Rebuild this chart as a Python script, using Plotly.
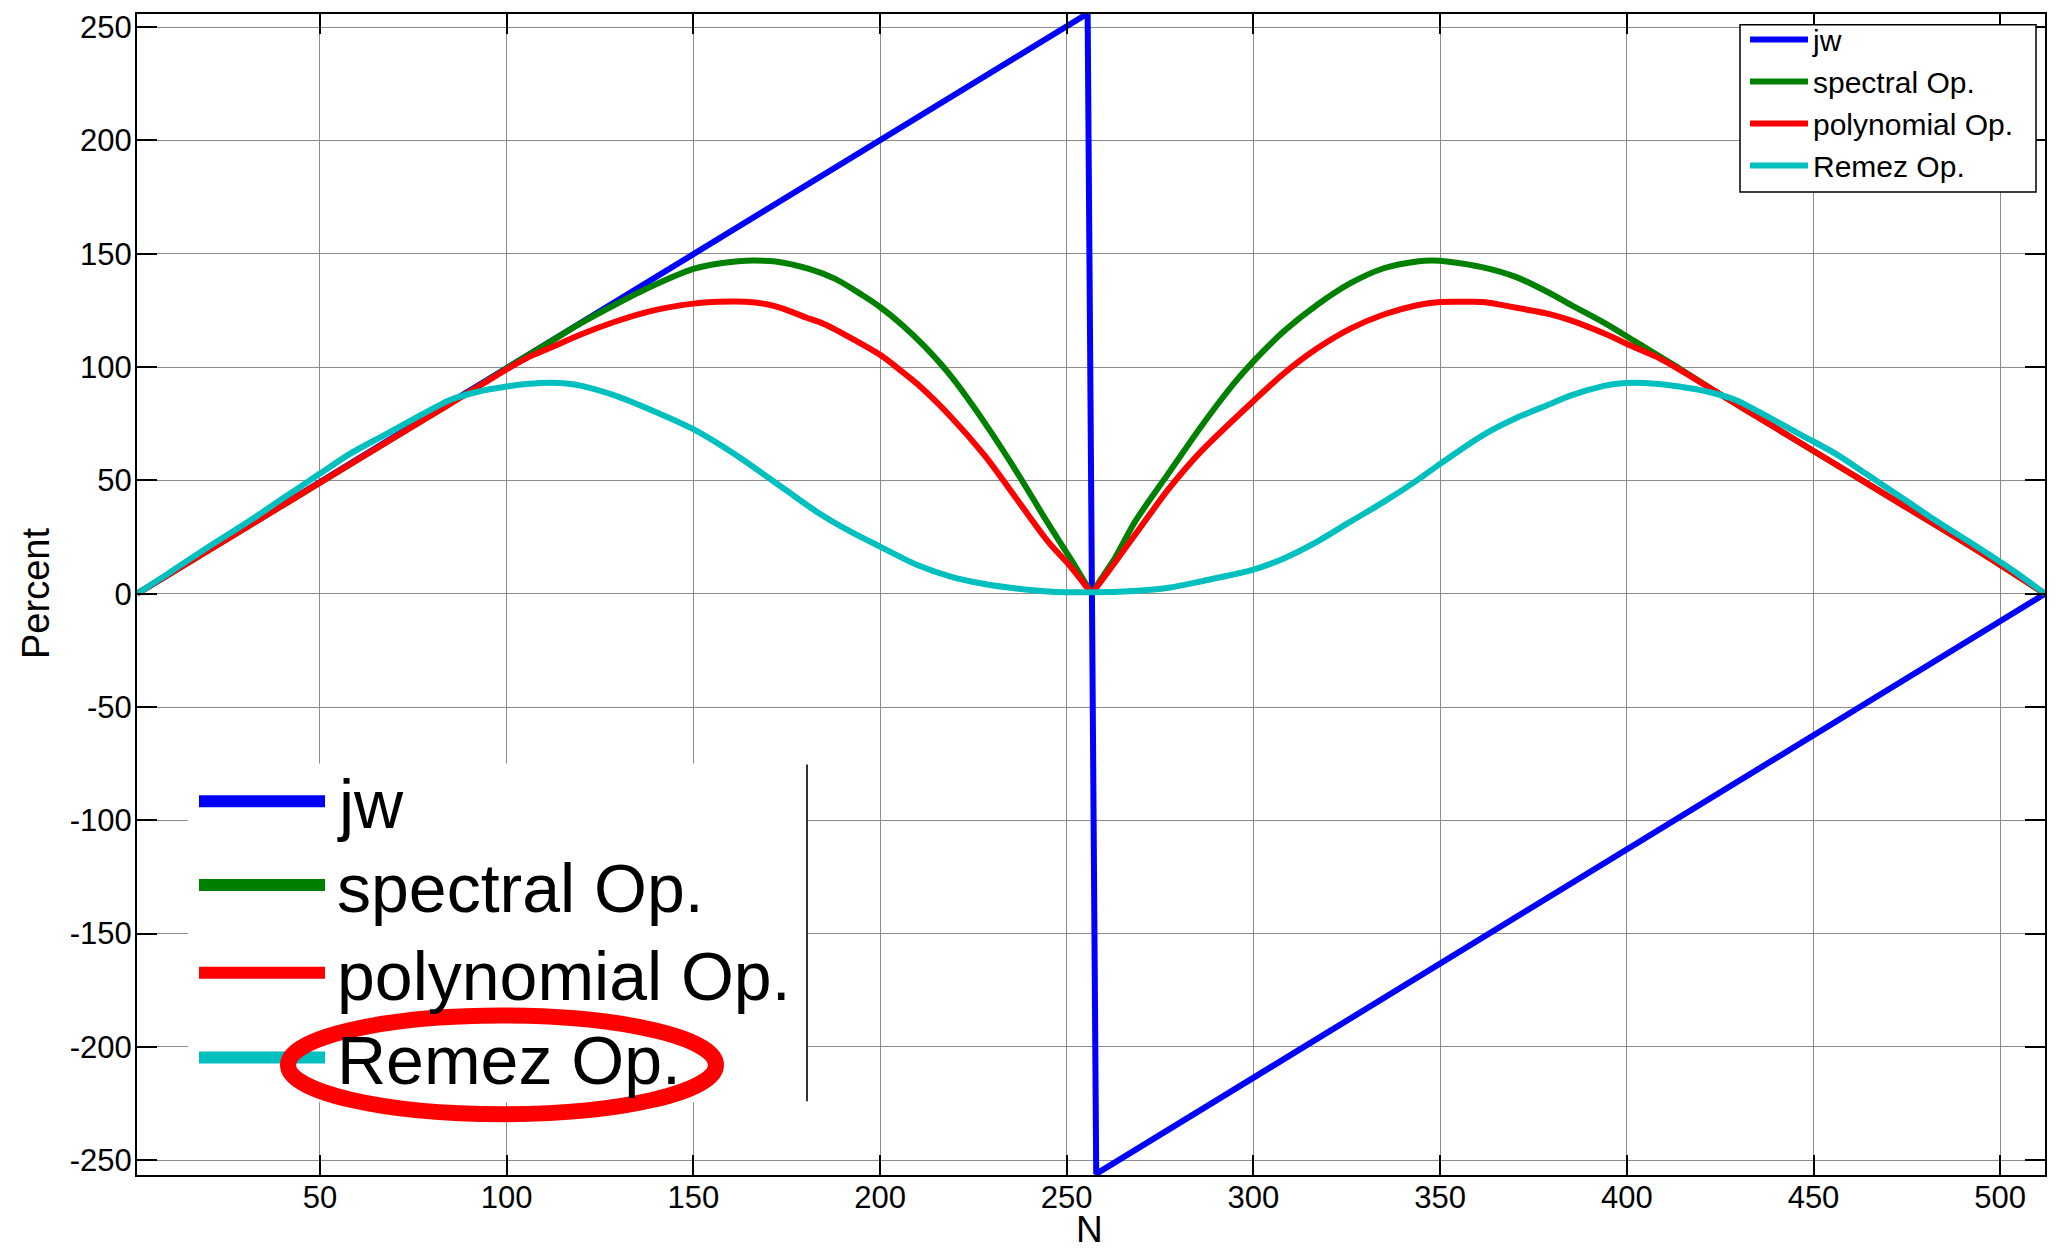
import plotly.graph_objects as go

# ---------------- data ----------------
x_jw = [1, 255.6, 257.9, 512]
y_jw = [0, 256, -256, 0]

x_spec = [1, 20, 40, 60, 80, 90, 100, 111.5, 120, 129, 138, 150, 156, 162, 166, 172, 181, 188, 195, 200,
          206, 212, 219, 228, 236.5, 245, 251, 256.7,
          259.4, 263, 268.3, 277.2, 286.1, 294.9, 300, 308.3, 317.1, 326, 334.9, 343.8, 348, 351.8, 361.5,
          370.4, 379.3, 385, 394, 402.5, 414, 424, 434, 454, 474, 494, 512]
y_spec = [0, 19, 39, 59, 79, 89, 99.5, 111, 119.5, 127.5, 135, 143.3, 145.5, 146.7, 147, 146.6, 143.3, 138.9, 132, 126.5,
          118.5, 109, 96, 75.5, 54, 31, 15.5, 0,
          7, 16, 31.8, 53, 74, 93, 102.5, 116, 127.5, 137, 143.6, 146.6, 147, 146.6, 144,
          139.7, 132.7, 127.5, 119.5, 111, 99.5, 89, 79, 59, 39, 19, 0]

x_poly = [1, 20, 40, 60, 80, 90, 100, 106, 111.5, 120, 129, 138, 150, 157, 164, 170, 174, 180, 185, 192,
          200, 205, 210, 219, 228, 236.5, 245, 251, 256.7,
          259.4, 263, 268.3, 277.2, 286.1, 300, 308.3, 317.1, 326, 334.9, 343.8, 350, 356, 361.5, 370.4,
          379.3, 385, 394, 402.5, 408, 414, 424, 434, 454, 474, 494, 512]
y_poly = [0, 19, 39, 59, 79, 89, 99, 104.5, 108.4, 114.5, 120, 124.5, 128, 128.8, 128.8, 127.6, 125.8, 122, 119, 113,
          105.4, 99.2, 92.5, 78, 61, 42, 23, 12, 0,
          6, 14, 26, 46, 63, 85, 97.4, 108.3, 117, 123.2, 127.3, 128.7, 128.8, 128.7, 126.2,
          123.4, 120.6, 114.8, 108.4, 104.5, 99, 89, 79, 59, 39, 19, 0]

x_rem = [1, 10, 20, 31.5, 40, 50, 58, 67, 76, 85, 92, 100, 106, 111.5, 116, 120.4, 129.3, 138.2, 150, 161.7,
         174.2, 183, 192, 200, 209.8, 218.7, 227.6, 236.5, 245, 256.7,
         268, 277.2, 286.1, 300, 308.3, 317.1, 326, 334.9, 343.8, 350, 361.5, 370.4, 379.3, 384.7, 393.6,
         398, 402.5, 408, 414, 422, 429, 438, 447, 456, 464, 474, 482.5, 494, 504, 512]
y_rem = [0, 9.6, 20.5, 32.5, 42, 53, 61.7, 69.8, 77.9, 85.6, 89, 91.4, 92.6, 93.1, 92.8, 91.6, 87.3, 81.4, 72.6, 60.9,
         46.4, 36.2, 27.5, 20.8, 12.8, 7.7, 4.4, 2.3, 1.0, 0.6,
         1.2, 2.6, 5.5, 10.6, 15.7, 23, 31.8, 40.5, 50, 57.3, 70, 77.5, 83.6, 87.3, 91.6,
         92.8, 93.1, 92.6, 91.4, 89, 85.6, 77.9, 69.8, 61.7, 53, 42, 32.5, 20.5, 9.6, 0]

CUSP_X = 256.7  # where spectral / polynomial curves meet zero (sharp V)

series_names = ["jw", "spectral Op.", "polynomial Op.", "Remez Op."]
series_colors = ["#0000FF", "#008000", "#FF0000", "#00BFBF"]
x_ticks = [50, 100, 150, 200, 250, 300, 350, 400, 450, 500]
y_ticks = [-250, -200, -150, -100, -50, 0, 50, 100, 150, 200, 250]

# ---------------- figure ----------------
W, H = 2058, 1254
L, R, T, B = 137, 13, 10, 79
PW, PH = W - L - R, H - T - B
FONT = "Liberation Sans, Arial, sans-serif"
LW = 6


def px(p):
    return (p - L) / PW


def py(p):
    return 1 - (p - T) / PH


fig = go.Figure()
# jw: straight segments
fig.add_trace(go.Scatter(x=x_jw, y=y_jw, mode="lines", name=series_names[0], legendgroup="g0",
                         line=dict(color=series_colors[0], width=LW)))
# spectral / polynomial: smooth halves meeting in a sharp cusp
for k, (xs, ys) in enumerate([(x_spec, y_spec), (x_poly, y_poly)], start=1):
    i = xs.index(CUSP_X)
    for part, (xx, yy) in enumerate([(xs[:i + 1], ys[:i + 1]), (xs[i:], ys[i:])]):
        fig.add_trace(go.Scatter(x=xx, y=yy, mode="lines", name=series_names[k],
                                 legendgroup="g%d" % k, showlegend=(part == 0),
                                 line=dict(color=series_colors[k], width=LW, shape="spline",
                                           smoothing=0.8)))
# Remez: smooth throughout
fig.add_trace(go.Scatter(x=x_rem, y=y_rem, mode="lines", name=series_names[3], legendgroup="g3",
                         line=dict(color=series_colors[3], width=LW, shape="spline", smoothing=0.8)))

axis_common = dict(
    showline=True, linecolor="black", linewidth=2, mirror="allticks",
    ticks="inside", ticklen=20, tickwidth=1.5, tickcolor="black",
    showgrid=True, gridcolor="#8c8c8c", gridwidth=1, zeroline=False,
    tickfont=dict(family=FONT, size=31, color="black"),
)
fig.update_xaxes(range=[1, 512], tickvals=x_ticks, ticktext=[str(v) for v in x_ticks],
                 ticklabelstandoff=-6, **axis_common)
fig.update_yaxes(range=[-256.5, 255.8], tickvals=y_ticks, ticktext=[str(v) for v in y_ticks],
                 ticklabelstandoff=-3, **axis_common)

shapes = [
    # small legend frame (top right)
    dict(type="rect", xref="paper", yref="paper", x0=px(1740), x1=px(2036), y0=py(188.7), y1=py(20.7),
         fillcolor="white", line=dict(color="black", width=1.5), layer="above"),
    # overlay: enlarged legend picture (white panel, right border)
    dict(type="rect", xref="paper", yref="paper", x0=px(188), x1=px(807), y0=py(1102), y1=py(762),
         fillcolor="white", line=dict(width=0), layer="above"),
    dict(type="line", xref="paper", yref="paper", x0=px(807), x1=px(807), y0=py(1101), y1=py(763),
         line=dict(color="#333333", width=2), layer="above"),
]
big_rows_y = [800, 884, 972, 1057]
annotations = []
for yy, name, col in zip(big_rows_y, series_names, series_colors):
    shapes.append(dict(type="line", xref="paper", yref="paper", x0=px(199), x1=px(325),
                       y0=py(yy), y1=py(yy), line=dict(color=col, width=12), layer="above"))
    annotations.append(dict(xref="paper", yref="paper", x=px(335), y=py(yy + 3), text=name,
                            showarrow=False, xanchor="left", yanchor="middle",
                            font=dict(family=FONT, size=68, color="black")))
shapes.append(dict(type="circle", xref="paper", yref="paper", x0=px(288), x1=px(716),
                   y0=py(1114), y1=py(1015), line=dict(color="#FF0000", width=16), layer="above"))

annotations.append(dict(xref="paper", yref="paper", x=px(36), y=py(592), text="Percent",
                        textangle=-90, showarrow=False, xanchor="center", yanchor="middle",
                        font=dict(family=FONT, size=38, color="black")))
annotations.append(dict(xref="paper", yref="paper", x=px(1089), y=py(1252), text="N",
                        showarrow=False, xanchor="center", yanchor="bottom",
                        font=dict(family=FONT, size=37, color="black")))

fig.update_layout(
    width=W, height=H, margin=dict(l=L, r=R, t=T, b=B, pad=0),
    paper_bgcolor="white", plot_bgcolor="white",
    font=dict(family=FONT, color="black"),
    shapes=shapes, annotations=annotations,
    legend=dict(x=px(1745), y=py(9.5), xanchor="left", yanchor="top",
                bgcolor="rgba(0,0,0,0)", borderwidth=0,
                font=dict(family=FONT, size=30, color="black"),
                itemwidth=58, tracegroupgap=0),
    showlegend=True,
)

fig.write_html("out.html")
